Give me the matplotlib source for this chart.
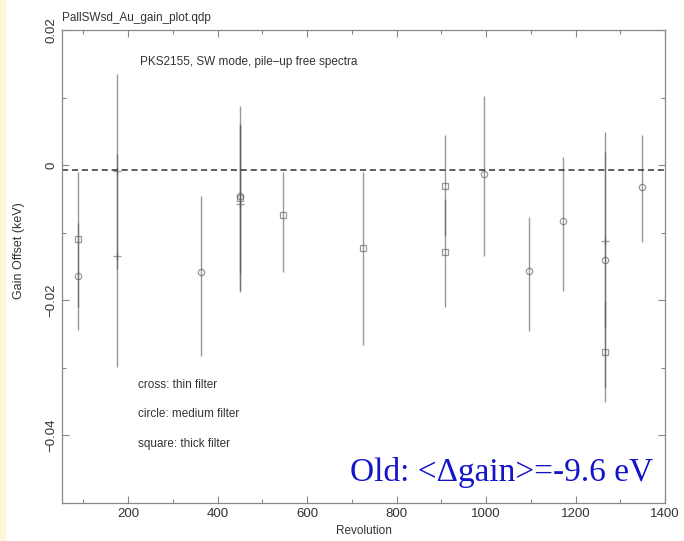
import matplotlib
matplotlib.use("Agg")
import matplotlib.pyplot as plt
from matplotlib.ticker import MultipleLocator
from matplotlib.patches import Rectangle
import numpy as np

# thin filter (cross)
rev_thin = [175, 175, 450, 1266]
gain_thin = [-0.0009, -0.0134, -0.0058, -0.0112]
lo_thin = [-0.0153, -0.0299, -0.0185, -0.0240]
hi_thin = [0.0135, 0.0016, 0.0061, 0.0019]

# medium filter (circle)
rev_med = [88, 363, 450, 995, 1096, 1172, 1266, 1349]
gain_med = [-0.0164, -0.0158, -0.0045, -0.0013, -0.0156, -0.0083, -0.0141, -0.0033]
lo_med = [-0.0244, -0.0283, -0.0187, -0.0135, -0.0245, -0.0186, -0.0330, -0.0113]
hi_med = [-0.0085, -0.0046, 0.0088, 0.0103, -0.0076, 0.0012, 0.0049, 0.0045]

# thick filter (square)
rev_thick = [88, 450, 546, 725, 908, 908, 1266]
gain_thick = [-0.0110, -0.0048, -0.0074, -0.0123, -0.0031, -0.0129, -0.0277]
lo_thick = [-0.0210, -0.0160, -0.0158, -0.0266, -0.0105, -0.0210, -0.0351]
hi_thick = [-0.0010, 0.0060, -0.0010, -0.0010, 0.0045, -0.0050, -0.0203]

mean_offset = -0.0007

plt.rcParams["font.family"] = ["Liberation Sans", "DejaVu Sans"]

fig = plt.figure(figsize=(6.84, 5.41), dpi=100)
fig.patches.append(Rectangle((0, 0), 0.007, 1, transform=fig.transFigure,
                             color="#fdf8dc", zorder=0))
ax = fig.add_axes([0.0906, 0.0702, 0.8816, 0.8743])

series = [
    (rev_thin, gain_thin, lo_thin, hi_thin, "+", 5.5),
    (rev_med, gain_med, lo_med, hi_med, "o", 4.6),
    (rev_thick, gain_thick, lo_thick, hi_thick, "s", 4.4),
]
for xs, ys, lo, hi, mk, ms in series:
    ys = np.array(ys)
    yerr = [ys - np.array(lo), np.array(hi) - ys]
    ax.errorbar(xs, ys, yerr=yerr, fmt=mk, ms=ms, mfc="none", mec="#555555",
                mew=0.9, ecolor="#555555", elinewidth=1.0, capsize=0, alpha=0.6)

ax.axhline(mean_offset, color="#333333", lw=1.1, ls=(0, (4, 2.5)))

ax.set_xlim(52, 1400)
ax.set_ylim(-0.05, 0.02)
ax.xaxis.set_major_locator(MultipleLocator(200))
ax.xaxis.set_minor_locator(MultipleLocator(100))
ax.yaxis.set_major_locator(MultipleLocator(0.02))
ax.yaxis.set_minor_locator(MultipleLocator(0.01))
ax.tick_params(which="both", direction="in", top=True, right=True, colors="#888888",
               labelcolor="#333333", labelsize=9.5)
ax.tick_params(which="major", length=5, width=0.8)
ax.tick_params(which="minor", length=3, width=0.8)
ax.set_yticks([-0.04, -0.02, 0, 0.02])
ax.set_yticklabels(["\u22120.04", "\u22120.02", "0", "0.02"], rotation=90, va="center")
ax.set_xticks([200, 400, 600, 800, 1000, 1200, 1400])
for s in ax.spines.values():
    s.set_color("#888888")
    s.set_linewidth(0.9)

ax.set_xlabel("Revolution", fontsize=8.5, color="#333333", labelpad=4)
ax.set_ylabel("Gain Offset (keV)", fontsize=9, color="#333333")
ax.yaxis.set_label_coords(-0.061, 0.533)

fig.text(0.091, 0.967, "PallSWsd_Au_gain_plot.qdp", fontsize=8.5, color="#333333",
         va="center")
ax.text(0.129, 0.932, "PKS2155, SW mode, pile\u2013up free spectra", transform=ax.transAxes,
        fontsize=8.5, color="#333333", va="center")
ax.text(0.126, 0.249, "cross: thin filter", transform=ax.transAxes,
        fontsize=8.5, color="#333333", va="center")
ax.text(0.126, 0.188, "circle: medium filter", transform=ax.transAxes,
        fontsize=8.5, color="#333333", va="center")
ax.text(0.126, 0.125, "square: thick filter", transform=ax.transAxes,
        fontsize=8.5, color="#333333", va="center")
ax.text(0.98, 0.065, "Old: <\u0394gain>=-9.6 eV", transform=ax.transAxes,
        family="Liberation Serif", fontsize=24, color="#1515c8", ha="right", va="center")

fig.savefig("out.png", dpi=100)
